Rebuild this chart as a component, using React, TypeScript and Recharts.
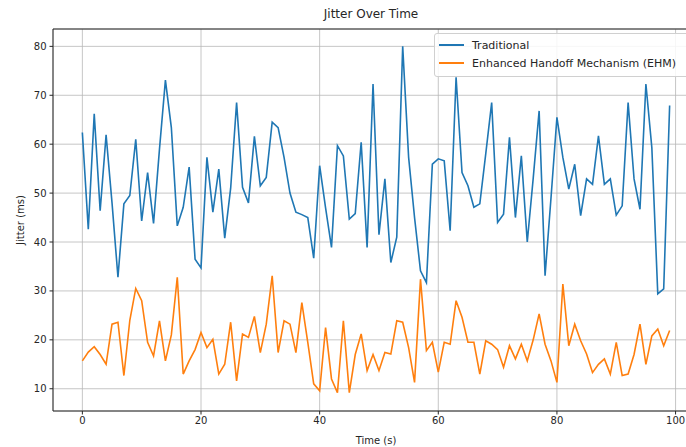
import { LineChart, Line, XAxis, YAxis, CartesianGrid, Legend, Label } from "recharts";

// jitter readings per second (ms)
const traditional = [
  62.4, 42.6, 66.2, 46.4, 61.9, 48, 32.8, 47.8, 49.5, 61,
  44.3, 54.2, 43.8, 59, 73.1, 63.4, 43.3, 47.1, 55.3, 36.5,
  34.7, 57.3, 46.1, 54.9, 40.8, 51, 68.5, 51.2, 48, 61.6,
  51.5, 53.2, 64.5, 63.4, 57.3, 50, 46.1, 45.6, 45, 36.7,
  55.6, 47, 38.9, 59.7, 57.6, 44.7, 45.8, 60.4, 38.9, 72.3,
  41.5, 52.9, 35.8, 41, 80, 57.3, 45, 34.1, 31.7, 55.9,
  57, 56.6, 42.3, 73.7, 54.2, 51.5, 47.1, 47.8, 58, 68.5,
  44, 45.7, 61.4, 45, 57.6, 40, 53, 66.8, 33.1, 49,
  65.5, 57.3, 50.8, 55.9, 45.4, 52.9, 51.8, 61.7, 51.8, 52.9,
  45.5, 47.4, 68.5, 52.9, 46.7, 72.3, 59.3, 29.4, 30.4, 67.9,
];

const ehm = [
  15.7, 17.5, 18.6, 17, 15, 23.2, 23.6, 12.7, 24, 30.5,
  28, 19.5, 16.7, 23.9, 15.7, 21, 32.8, 13, 15.7, 18,
  21.5, 18.4, 20.1, 13, 15, 23.6, 11.6, 21.2, 20.5, 24.8,
  17.4, 23.2, 33.1, 17.4, 23.9, 23.2, 17.4, 27.6, 19.5, 11,
  9.6, 22.5, 12, 9.2, 23.9, 9.2, 17, 21.2, 13.7, 17,
  13.7, 17.4, 17.1, 23.9, 23.6, 18.4, 11.3, 32.4, 17.8, 19.5,
  13.4, 19.5, 19.1, 28, 24.6, 19.5, 19.5, 13, 19.8, 19.1,
  18, 14.4, 18.8, 16.1, 19.1, 15.7, 20, 25.3, 19.1, 15.7,
  11.3, 31.4, 18.8, 23.2, 19.8, 17.1, 13.3, 15, 16.1, 13,
  19.5, 12.7, 13, 17, 23.2, 15, 20.8, 22.2, 18.8, 21.9,
];

const xTicks = [0, 20, 40, 60, 80, 100];
const yTicks = [10, 20, 30, 40, 50, 60, 70, 80];

const series = [
  { key: "traditional", name: "Traditional", color: "#1f77b4" },
  { key: "ehm", name: "Enhanced Handoff Mechanism (EHM)", color: "#ff7f0e" },
];

const data = traditional.map((v, i) => ({ time: i, traditional: v, ehm: ehm[i] }));

const textColor = "#262626";

function renderLegend() {
  return (
    <div
      style={{
        background: "rgba(255,255,255,0.85)",
        border: "1px solid #d0d0d0",
        borderRadius: 3,
        padding: "2px 30px 4px 4px",
        fontSize: 11,
        color: textColor,
        whiteSpace: "nowrap",
      }}
    >
      {series.map((s) => (
        <div key={s.key} style={{ display: "flex", alignItems: "center", height: 18 }}>
          <span
            style={{
              display: "inline-block",
              width: 25,
              height: 2,
              background: s.color,
              marginRight: 8,
            }}
          />
          {s.name}
        </div>
      ))}
    </div>
  );
}

export default function App() {
  return (
    <div
      style={{
        position: "absolute",
        left: 0,
        top: 0,
        width: 686,
        height: 447,
        overflow: "hidden",
        background: "#fff",
        fontFamily: "'DejaVu Sans', sans-serif",
      }}
    >
      <LineChart width={720} height={447} data={data} margin={{ top: 0, right: 21, bottom: 0, left: 0 }}>
        <CartesianGrid stroke="#b8b8b8" strokeWidth={0.8} />
        <XAxis
          xAxisId="top"
          orientation="top"
          dataKey="time"
          type="number"
          domain={[-4.95, 103.95]}
          allowDataOverflow
          height={29}
          tick={false}
          tickLine={false}
          stroke={textColor}
        >
          <Label
            content={() => (
              <text x={371} y={18} textAnchor="middle" fontSize={12} fill={textColor}>
                Jitter Over Time
              </text>
            )}
          />
        </XAxis>
        <XAxis
          dataKey="time"
          type="number"
          domain={[-4.95, 103.95]}
          ticks={xTicks}
          allowDataOverflow
          height={36}
          tickSize={3.5}
          tickMargin={2}
          stroke={textColor}
          tick={{ fill: textColor, fontSize: 10 }}
        >
          <Label value="Time (s)" position="insideBottom" offset={3} fill={textColor} fontSize={10} />
        </XAxis>
        <YAxis
          type="number"
          domain={[5.45, 83.55]}
          ticks={yTicks}
          allowDataOverflow
          width={53}
          tickSize={3.5}
          tickMargin={3}
          stroke={textColor}
          tick={{ fill: textColor, fontSize: 10 }}
        >
          <Label
            value="Jitter (ms)"
            angle={-90}
            position="insideLeft"
            offset={20}
            fill={textColor}
            fontSize={10}
            style={{ textAnchor: "middle" }}
          />
        </YAxis>
        <Legend
          layout="horizontal"
          verticalAlign="middle"
          content={renderLegend}
          wrapperStyle={{ left: 434, top: 33, width: "auto", bottom: "auto", right: "auto" }}
        />
        {series.map((s) => (
          <Line
            key={s.key}
            type="linear"
            dataKey={s.key}
            name={s.name}
            stroke={s.color}
            strokeWidth={1.6}
            dot={false}
            isAnimationActive={false}
          />
        ))}
      </LineChart>
    </div>
  );
}
